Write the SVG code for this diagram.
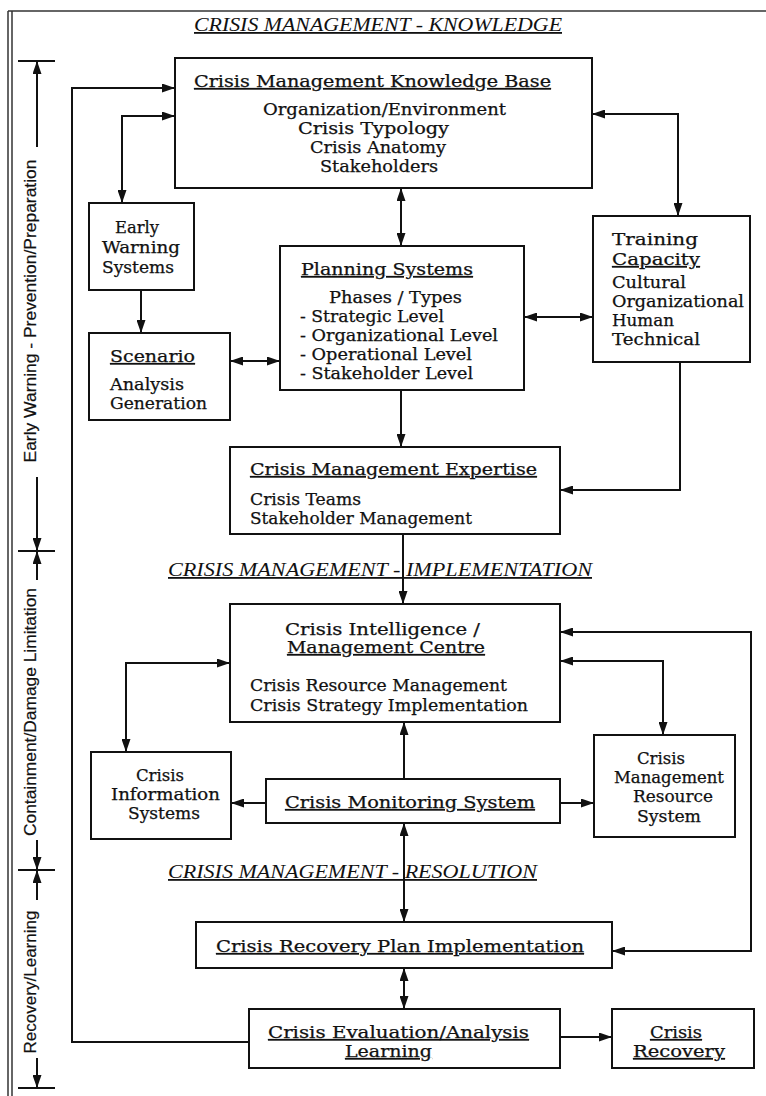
<svg xmlns="http://www.w3.org/2000/svg" width="766" height="1096" viewBox="0 0 766 1096">
<style>
.box{fill:#fff;stroke:#111;stroke-width:2}
.t{font-family:"DejaVu Serif","Liberation Serif",serif;font-size:16px;fill:#111;stroke:#111;stroke-width:0.25}
.u{text-decoration:underline}
.h{font-family:"Liberation Serif","DejaVu Serif",serif;font-style:italic;font-size:18px;fill:#111;text-decoration:underline}
.s{font-family:"Liberation Sans","DejaVu Sans",sans-serif;font-size:16px;fill:#111;stroke:#111;stroke-width:0.2}
.c{fill:none;stroke:#111;stroke-width:2}
.frame{fill:none;stroke:#333;stroke-width:1.5}
</style>
<defs>
<marker id="ah" markerUnits="userSpaceOnUse" markerWidth="13" markerHeight="9" refX="12" refY="4.5" orient="auto-start-reverse">
<path d="M0,0 L13,4.5 L0,9 z" fill="#111"/>
</marker>
</defs>
<rect width="766" height="1096" fill="#fff"/>
<g id="frame">
<line class="frame" x1="8" y1="11" x2="766" y2="11" stroke-width="2.5"/>
<line class="frame" x1="8" y1="11" x2="8" y2="1096"/>
<line class="frame" x1="12" y1="11" x2="12" y2="1096"/>
</g>
<g id="timeline">
<line class="c" x1="18" y1="61" x2="55" y2="61"/>
<line class="c" x1="37" y1="147" x2="37" y2="62" marker-end="url(#ah)"/>
<text class="s" transform="translate(36,311) rotate(-90)" text-anchor="middle" textLength="303" lengthAdjust="spacingAndGlyphs">Early Warning - Prevention/Preparation</text>
<line class="c" x1="37" y1="477" x2="37" y2="550" marker-end="url(#ah)"/>
<line class="c" x1="18" y1="551" x2="55" y2="551"/>
<line class="c" x1="37" y1="580" x2="37" y2="552" marker-end="url(#ah)"/>
<text class="s" transform="translate(36,712) rotate(-90)" text-anchor="middle" textLength="248" lengthAdjust="spacingAndGlyphs">Containment/Damage Limitation</text>
<line class="c" x1="37" y1="840" x2="37" y2="869" marker-end="url(#ah)"/>
<line class="c" x1="18" y1="870" x2="55" y2="870"/>
<line class="c" x1="37" y1="900" x2="37" y2="871" marker-end="url(#ah)"/>
<text class="s" transform="translate(36,982) rotate(-90)" text-anchor="middle" textLength="143" lengthAdjust="spacingAndGlyphs">Recovery/Learning</text>
<line class="c" x1="37" y1="1058" x2="37" y2="1087" marker-end="url(#ah)"/>
<line class="c" x1="18" y1="1088" x2="55" y2="1088"/>
</g>
<g id="headers">
<text class="h" x="194" y="31" textLength="368" lengthAdjust="spacingAndGlyphs">CRISIS MANAGEMENT - KNOWLEDGE</text>
<text class="h" x="168" y="576" textLength="424" lengthAdjust="spacingAndGlyphs">CRISIS MANAGEMENT - IMPLEMENTATION</text>
<text class="h" x="168" y="878" textLength="369" lengthAdjust="spacingAndGlyphs">CRISIS MANAGEMENT - RESOLUTION</text>
</g>
<g id="connectors">
<polyline class="c" points="249,1042 72,1042 72,88 174,88" marker-end="url(#ah)"/>
<polyline class="c" points="174,116 122,116 122,202" marker-start="url(#ah)" marker-end="url(#ah)"/>
<line class="c" x1="401" y1="189" x2="401" y2="245" marker-start="url(#ah)" marker-end="url(#ah)"/>
<polyline class="c" points="593,114 678,114 678,215" marker-start="url(#ah)" marker-end="url(#ah)"/>
<line class="c" x1="141" y1="290" x2="141" y2="332" marker-end="url(#ah)"/>
<line class="c" x1="231" y1="361" x2="279" y2="361" marker-start="url(#ah)" marker-end="url(#ah)"/>
<line class="c" x1="525" y1="317" x2="592" y2="317" marker-start="url(#ah)" marker-end="url(#ah)"/>
<line class="c" x1="401" y1="390" x2="401" y2="446" marker-end="url(#ah)"/>
<polyline class="c" points="680,362 680,490 561,490" marker-end="url(#ah)"/>
<line class="c" x1="403" y1="534" x2="403" y2="603" marker-end="url(#ah)"/>
<polyline class="c" points="229,663 126,663 126,751" marker-start="url(#ah)" marker-end="url(#ah)"/>
<polyline class="c" points="561,661 663,661 663,734" marker-start="url(#ah)" marker-end="url(#ah)"/>
<polyline class="c" points="561,632 751,632 751,951 613,951" marker-start="url(#ah)" marker-end="url(#ah)"/>
<line class="c" x1="404" y1="779" x2="404" y2="723" marker-end="url(#ah)"/>
<line class="c" x1="266" y1="803" x2="232" y2="803" marker-end="url(#ah)"/>
<line class="c" x1="560" y1="803" x2="593" y2="803" marker-end="url(#ah)"/>
<line class="c" x1="404" y1="824" x2="404" y2="921" marker-start="url(#ah)" marker-end="url(#ah)"/>
<line class="c" x1="404" y1="969" x2="404" y2="1008" marker-start="url(#ah)" marker-end="url(#ah)"/>
<line class="c" x1="560" y1="1037" x2="611" y2="1037" marker-end="url(#ah)"/>
</g>
<g id="knowledge-base">
<rect class="box" x="175" y="58" width="417" height="130"/>
<text class="t u" x="194" y="87" font-size="17" textLength="357" lengthAdjust="spacingAndGlyphs">Crisis Management Knowledge Base</text>
<text class="t" x="263" y="115" textLength="243" lengthAdjust="spacingAndGlyphs">Organization/Environment</text>
<text class="t" x="298" y="134" textLength="151" lengthAdjust="spacingAndGlyphs">Crisis Typology</text>
<text class="t" x="310" y="153" textLength="136" lengthAdjust="spacingAndGlyphs">Crisis Anatomy</text>
<text class="t" x="320" y="172" textLength="118" lengthAdjust="spacingAndGlyphs">Stakeholders</text>
</g>
<g id="early-warning">
<rect class="box" x="89" y="203" width="105" height="87"/>
<text class="t" x="115" y="233" textLength="44" lengthAdjust="spacingAndGlyphs">Early</text>
<text class="t" x="102" y="253" textLength="78" lengthAdjust="spacingAndGlyphs">Warning</text>
<text class="t" x="102" y="273" textLength="72" lengthAdjust="spacingAndGlyphs">Systems</text>
</g>
<g id="planning">
<rect class="box" x="280" y="246" width="244" height="144"/>
<text class="t u" x="301" y="275" textLength="172" lengthAdjust="spacingAndGlyphs">Planning Systems</text>
<text class="t" x="329" y="303" textLength="133" lengthAdjust="spacingAndGlyphs">Phases / Types</text>
<text class="t" x="300" y="322" textLength="144" lengthAdjust="spacingAndGlyphs">- Strategic Level</text>
<text class="t" x="300" y="341" textLength="198" lengthAdjust="spacingAndGlyphs">- Organizational Level</text>
<text class="t" x="300" y="360" textLength="172" lengthAdjust="spacingAndGlyphs">- Operational Level</text>
<text class="t" x="300" y="379" textLength="173" lengthAdjust="spacingAndGlyphs">- Stakeholder Level</text>
</g>
<g id="training">
<rect class="box" x="593" y="216" width="157" height="146"/>
<text class="t" x="612" y="245" font-size="17" textLength="86" lengthAdjust="spacingAndGlyphs">Training</text>
<text class="t u" x="612" y="265" font-size="17" textLength="88" lengthAdjust="spacingAndGlyphs">Capacity</text>
<text class="t" x="612" y="288" textLength="74" lengthAdjust="spacingAndGlyphs">Cultural</text>
<text class="t" x="612" y="307" textLength="132" lengthAdjust="spacingAndGlyphs">Organizational</text>
<text class="t" x="612" y="326" textLength="62" lengthAdjust="spacingAndGlyphs">Human</text>
<text class="t" x="612" y="345" textLength="88" lengthAdjust="spacingAndGlyphs">Technical</text>
</g>
<g id="scenario">
<rect class="box" x="89" y="333" width="141" height="87"/>
<text class="t u" x="110" y="362" textLength="85" lengthAdjust="spacingAndGlyphs">Scenario</text>
<text class="t" x="110" y="390" textLength="74" lengthAdjust="spacingAndGlyphs">Analysis</text>
<text class="t" x="110" y="409" textLength="97" lengthAdjust="spacingAndGlyphs">Generation</text>
</g>
<g id="expertise">
<rect class="box" x="230" y="447" width="330" height="87"/>
<text class="t u" x="250" y="475" textLength="287" lengthAdjust="spacingAndGlyphs">Crisis Management Expertise</text>
<text class="t" x="250" y="505" textLength="111" lengthAdjust="spacingAndGlyphs">Crisis Teams</text>
<text class="t" x="250" y="524" textLength="222" lengthAdjust="spacingAndGlyphs">Stakeholder Management</text>
</g>
<g id="intelligence-centre">
<rect class="box" x="230" y="604" width="330" height="118"/>
<text class="t" x="285" y="635" textLength="195" lengthAdjust="spacingAndGlyphs">Crisis Intelligence /</text>
<text class="t u" x="287" y="653" textLength="198" lengthAdjust="spacingAndGlyphs">Management Centre</text>
<text class="t" x="250" y="691" textLength="257" lengthAdjust="spacingAndGlyphs">Crisis Resource Management</text>
<text class="t" x="250" y="711" textLength="278" lengthAdjust="spacingAndGlyphs">Crisis Strategy Implementation</text>
</g>
<g id="information-systems">
<rect class="box" x="91" y="752" width="140" height="87"/>
<text class="t" x="136" y="781" textLength="48" lengthAdjust="spacingAndGlyphs">Crisis</text>
<text class="t" x="111" y="800" textLength="109" lengthAdjust="spacingAndGlyphs">Information</text>
<text class="t" x="128" y="819" textLength="72" lengthAdjust="spacingAndGlyphs">Systems</text>
</g>
<g id="monitoring">
<rect class="box" x="266" y="779" width="294" height="44"/>
<text class="t u" x="285" y="808" textLength="250" lengthAdjust="spacingAndGlyphs">Crisis Monitoring System</text>
</g>
<g id="resource-system">
<rect class="box" x="594" y="735" width="141" height="102"/>
<text class="t" x="637" y="764" textLength="48" lengthAdjust="spacingAndGlyphs">Crisis</text>
<text class="t" x="614" y="783" textLength="110" lengthAdjust="spacingAndGlyphs">Management</text>
<text class="t" x="633" y="802" textLength="80" lengthAdjust="spacingAndGlyphs">Resource</text>
<text class="t" x="637" y="822" textLength="64" lengthAdjust="spacingAndGlyphs">System</text>
</g>
<g id="recovery-plan">
<rect class="box" x="196" y="922" width="416" height="46"/>
<text class="t u" x="216" y="952" textLength="368" lengthAdjust="spacingAndGlyphs">Crisis Recovery Plan Implementation</text>
</g>
<g id="evaluation">
<rect class="box" x="249" y="1009" width="311" height="59"/>
<text class="t u" x="268" y="1038" textLength="261" lengthAdjust="spacingAndGlyphs">Crisis Evaluation/Analysis</text>
<text class="t u" x="345" y="1057" textLength="87" lengthAdjust="spacingAndGlyphs">Learning</text>
</g>
<g id="crisis-recovery">
<rect class="box" x="612" y="1009" width="142" height="59"/>
<text class="t u" x="650" y="1038" textLength="52" lengthAdjust="spacingAndGlyphs">Crisis</text>
<text class="t u" x="633" y="1057" textLength="92" lengthAdjust="spacingAndGlyphs">Recovery</text>
</g>
</svg>
